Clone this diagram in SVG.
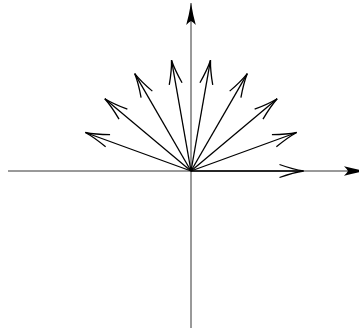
<svg xmlns="http://www.w3.org/2000/svg" width="359" height="329" viewBox="0 0 359 329">
<style>
.axis{stroke:#000;stroke-width:0.8;fill:none}
.vec{stroke:#000;stroke-width:1.3;fill:none;marker-end:url(#open)}
</style>
<defs>
<marker id="open" markerUnits="userSpaceOnUse" viewBox="-26 -8 28 16" refX="0" refY="0" markerWidth="28" markerHeight="16" orient="auto" overflow="visible">
<path d="M -24 -6.5 Q -10 -1.5 0 0 Q -10 1.5 -24 6.5" fill="none" stroke="#000" stroke-width="1.3"/>
</marker>
<marker id="solid" markerUnits="userSpaceOnUse" viewBox="-24 -6 26 12" refX="0" refY="0" markerWidth="26" markerHeight="12" orient="auto" overflow="visible">
<path d="M 0 0 Q -12 -2 -22 -4.8 Q -19 -2 -18 0 Q -19 2 -22 4.8 Q -12 2 0 0 Z" fill="#000"/>
</marker>
</defs>
<g id="axes">
<line class="axis" x1="8" y1="171" x2="366" y2="171" marker-end="url(#solid)"/>
<line class="axis" x1="191" y1="328" x2="191" y2="3" marker-end="url(#solid)"/>
</g>
<g id="connectors">
<line class="vec" x1="191" y1="171" x2="303.5" y2="171"/>
<line class="vec" x1="191" y1="171" x2="296.7" y2="132.5"/>
<line class="vec" x1="191" y1="171" x2="277.2" y2="98.7"/>
<line class="vec" x1="191" y1="171" x2="247.3" y2="73.6"/>
<line class="vec" x1="191" y1="171" x2="210.5" y2="60.2"/>
<line class="vec" x1="191" y1="171" x2="171.5" y2="60.2"/>
<line class="vec" x1="191" y1="171" x2="134.7" y2="73.6"/>
<line class="vec" x1="191" y1="171" x2="104.8" y2="98.7"/>
<line class="vec" x1="191" y1="171" x2="85.3" y2="132.5"/>
</g>
</svg>
